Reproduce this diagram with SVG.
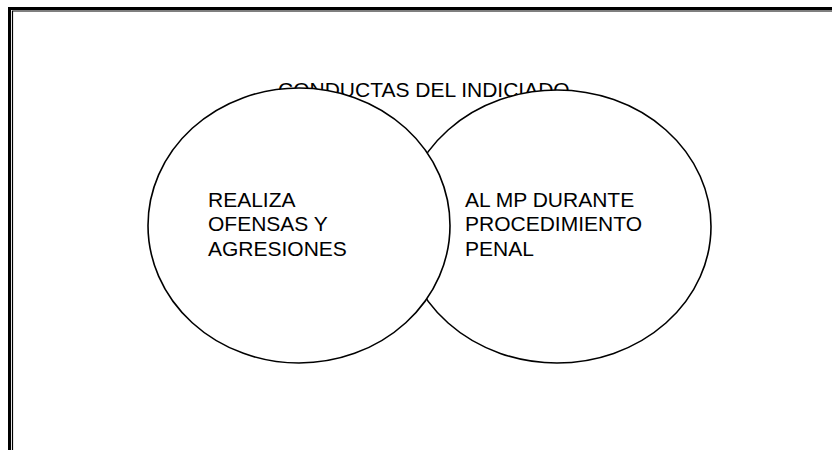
<svg xmlns="http://www.w3.org/2000/svg" width="832" height="450" viewBox="0 0 832 450">
<style>
.frame{fill:none;stroke:#000}
.node{fill:#fff;stroke:#000;stroke-width:1.6}
.t{font-family:"Liberation Sans",Arial,sans-serif;font-size:21px;fill:#000}
</style>
<rect width="832" height="450" fill="#fff"/>
<g id="frame">
<polyline class="frame" stroke-width="3" points="9.5,452 9.5,8.5 834,8.5"/>
<polyline class="frame" stroke-width="1.2" points="12.5,452 12.5,11 834,11"/>
</g>
<g id="title">
<text class="t" x="278" y="96.7">CONDUCTAS DEL INDICIADO</text>
</g>
<g id="connectors"></g>
<g id="node-right">
<ellipse class="node" cx="557" cy="226.5" rx="154" ry="136.5"/>
</g>
<g id="node-left">
<ellipse class="node" cx="299" cy="225.5" rx="151" ry="137.5"/>
<text class="t" x="208" y="206.5">REALIZA</text>
<text class="t" x="208" y="231">OFENSAS Y</text>
<text class="t" x="208" y="255.5">AGRESIONES</text>
</g>
<g id="node-right-text">
<text class="t" x="465" y="206.5">AL MP DURANTE</text>
<text class="t" x="465" y="231">PROCEDIMIENTO</text>
<text class="t" x="465" y="255.5">PENAL</text>
</g>
</svg>
